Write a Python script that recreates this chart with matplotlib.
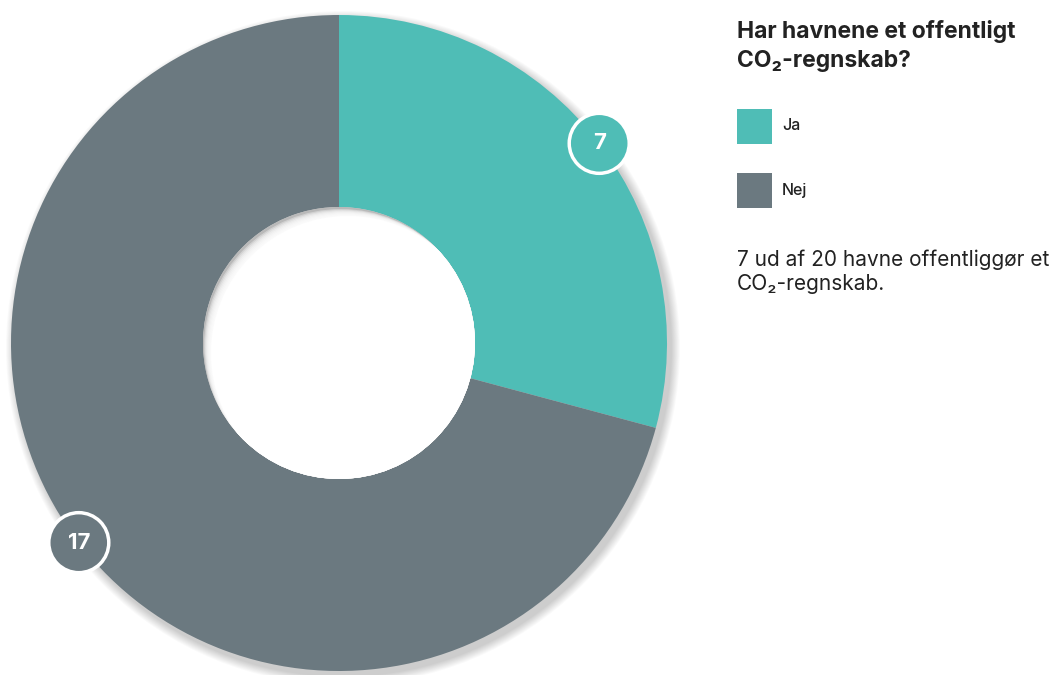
import numpy as np
import matplotlib
matplotlib.use("Agg")
import matplotlib.pyplot as plt
from matplotlib.patches import Circle, Rectangle

# data
labels = ["Ja", "Nej"]
values = [7, 17]
colors = ["#4fbdb6", "#6b7980"]
title = "Har havnene et offentligt\nCO₂-regnskab?"
note = "7 ud af 20 havne offentliggør et\nCO₂-regnskab."

W, H = 1056, 675
fig = plt.figure(figsize=(W / 100, H / 100), dpi=100)
ax = fig.add_axes([0, 0, 1, 1])

cx, cy = 339, H - 343
r_out, r_in = 328, 136

# soft drop shadow behind the ring
for k in range(10, 0, -1):
    ax.add_patch(Circle((cx + 4, cy - 5), r_out + k * 0.9, color="black",
                        alpha=0.018, lw=0, zorder=0))

wedges, _ = ax.pie(values, colors=colors, startangle=90, counterclock=False,
                   radius=r_out, center=(cx, cy),
                   wedgeprops=dict(width=r_out - r_in, edgecolor="none"))

# inner shadow inside the hole
hole = Circle((cx, cy), r_in, facecolor="#b9b9b9", lw=0, zorder=2)
ax.add_patch(hole)
for k in range(8):
    c = Circle((cx + 9 - k, cy - 10 + k), r_in + 1, facecolor="white",
               lw=0, alpha=0.35, zorder=3)
    ax.add_patch(c)
    c.set_clip_path(hole)
c = Circle((cx + 9, cy - 10), r_in + 1, facecolor="white", lw=0, zorder=4)
ax.add_patch(c)
c.set_clip_path(hole)

fam = ["Inter", "DejaVu Sans"]

# value badges on the outer edge
for w, v, col in zip(wedges, values, colors):
    mid = np.deg2rad((w.theta1 + w.theta2) / 2)
    bx = cx + r_out * np.cos(mid)
    by = cy + r_out * np.sin(mid)
    ax.add_patch(Circle((bx, by), 30, facecolor=col, edgecolor="white",
                        lw=2.5, zorder=6))
    ax.text(bx, by, str(v), color="white", fontsize=16, fontweight="bold",
            ha="center", va="center", zorder=7, family=fam)

ax.set_xlim(0, W)
ax.set_ylim(0, H)
ax.set_aspect("equal")
ax.axis("off")

ax.text(737, H - 20, title, fontsize=16.5, fontweight="bold", color="#222222",
        ha="left", va="top", linespacing=1.4, family=fam)

leg_y = [126, 190]
for lab, col, y in zip(labels, colors, leg_y):
    ax.add_patch(Rectangle((737, H - y - 17.5), 35, 35, facecolor=col, lw=0))
    ax.text(782, H - y, lab, fontsize=11.5, fontweight="medium",
            color="#222222", ha="left", va="center", family=fam)

ax.text(737, H - 250, note, fontsize=15, fontweight="normal", color="#222222",
        ha="left", va="top", linespacing=1.2, family=fam)

fig.savefig("out.png", dpi=100)
